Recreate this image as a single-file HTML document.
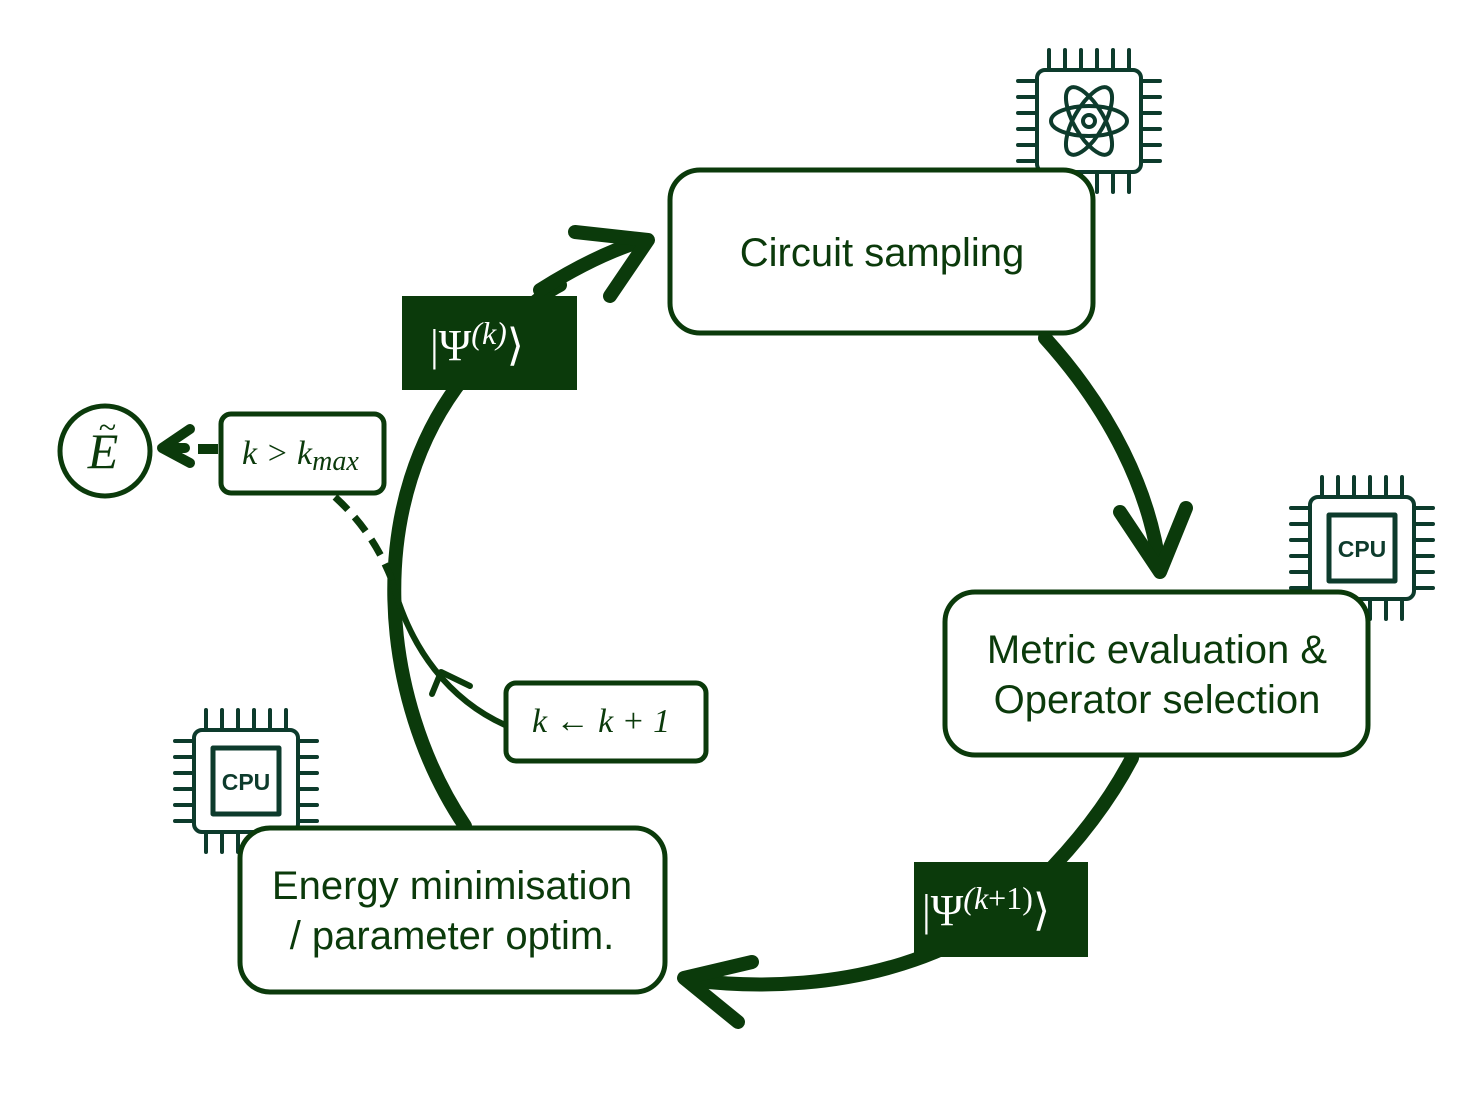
<!DOCTYPE html>
<html><head><meta charset="utf-8"><style>
body{margin:0;background:#fff;width:1472px;height:1116px;overflow:hidden}
svg{display:block}
.t{font-family:"Liberation Sans","DejaVu Sans",sans-serif;font-size:40px;fill:#0b3a0b}
.m{font-family:"Liberation Serif","DejaVu Serif",serif;font-style:italic;fill:#0b3a0b}
.w{font-family:"Liberation Serif","DejaVu Serif",serif;fill:#fff}
</style></head><body>
<svg width="1472" height="1116" viewBox="0 0 1472 1116">
<defs>
<g id="pins" stroke="#0d3b2c" stroke-width="4" fill="none">
 <path d="M-40,-50v-21M-24,-50v-21M-8,-50v-21M8,-50v-21M24,-50v-21M40,-50v-21"/>
 <path d="M-40,50v21M-24,50v21M-8,50v21M8,50v21M24,50v21M40,50v21"/>
 <path d="M-50,-40h-21M-50,-24h-21M-50,-8h-21M-50,8h-21M-50,24h-21M-50,40h-21"/>
 <path d="M50,-40h21M50,-24h21M50,-8h21M50,8h21M50,24h21M50,40h21"/>
 <rect x="-52" y="-51" width="104" height="102" rx="8" fill="#fff"/>
</g>
</defs>
<g fill="none" stroke="#0b3a0b" stroke-linecap="round" stroke-linejoin="round">
<g transform="translate(1089,121)"><use href="#pins"/>
 <g stroke="#0d3b2c" stroke-width="4"><ellipse rx="38" ry="15"/><ellipse rx="38" ry="15" transform="rotate(60)"/><ellipse rx="38" ry="15" transform="rotate(-60)"/><circle r="6"/></g></g>
<g transform="translate(1362,548)"><use href="#pins"/><rect x="-33" y="-33" width="66" height="66" stroke="#0d3b2c" stroke-width="5"/></g>
<g transform="translate(246,781)"><use href="#pins"/><rect x="-33" y="-33" width="66" height="66" stroke="#0d3b2c" stroke-width="5"/></g>
<path d="M465,826 C380,700 360,500 470,370 C500,330 540,295 560,285" stroke-width="14"/>
<path d="M540,290 C575,268 610,250 645,240" stroke-width="14"/>
<path d="M575,232 L648,240 L610,296" stroke-width="14"/>
<path d="M1045,338 C1110,410 1150,490 1160,570" stroke-width="14"/>
<path d="M1120,512 L1160,572 L1186,508" stroke-width="14"/>
<path d="M1132,758 C1110,800 1080,840 1040,880 C980,950 850,1000 690,980" stroke-width="14"/>
<path d="M752,962 L684,978 L738,1022" stroke-width="14"/>
<path d="M505,725 C450,700 410,650 392,580" stroke-width="6"/>
<path d="M432,694 L441,672 L470,686" stroke-width="6"/>
<path d="M335,497 C360,520 378,545 392,580" stroke-width="7" stroke-dasharray="18,10" stroke-linecap="butt"/>
<path d="M218,449 L198,449" stroke-width="10" stroke-linecap="butt"/>
<path d="M190,429 L162,448 L190,463" stroke-width="10"/>
<path d="M185,448 L165,448" stroke-width="10"/>
<circle cx="105" cy="451" r="45" stroke-width="5"/>
<rect x="670" y="170" width="423" height="163" rx="30" fill="#fff" stroke-width="5"/>
<rect x="945" y="592" width="423" height="163" rx="30" fill="#fff" stroke-width="5"/>
<rect x="240" y="828" width="425" height="164" rx="30" fill="#fff" stroke-width="5"/>
<rect x="221" y="414" width="163" height="79" rx="10" fill="#fff" stroke-width="5"/>
<rect x="506" y="683" width="200" height="78" rx="10" fill="#fff" stroke-width="5"/>
</g>
<rect x="402" y="296" width="175" height="94" fill="#0b3a0b"/>
<rect x="914" y="862" width="174" height="95" fill="#0b3a0b"/>
<text class="t" x="882" y="266" text-anchor="middle">Circuit sampling</text>
<text class="t" x="1157" y="663" text-anchor="middle">Metric evaluation &amp;</text>
<text class="t" x="1157" y="713" text-anchor="middle">Operator selection</text>
<text class="t" x="452" y="899" text-anchor="middle">Energy minimisation</text>
<text class="t" x="452" y="949" text-anchor="middle">/ parameter optim.</text>
<text class="w" x="430" y="360" font-size="44">|Ψ<tspan dy="-16" font-size="32" font-style="italic">(k)</tspan><tspan dy="16">⟩</tspan></text>
<text class="w" x="922" y="925" font-size="44">|Ψ<tspan dy="-16" font-size="32"><tspan font-style="italic">(k</tspan>+1)</tspan><tspan dy="16">⟩</tspan></text>
<text class="m" x="242" y="464" font-size="34">k &gt; k<tspan font-size="28" dy="6">max</tspan></text>
<text class="m" x="532" y="732" font-size="34">k ← k + 1</text>
<text class="m" x="103" y="468" font-size="50" text-anchor="middle">E</text>
<text class="m" x="107" y="438" font-size="32" text-anchor="middle">~</text>
<text x="1362" y="557" font-family="Liberation Sans,sans-serif" font-weight="bold" font-size="23" fill="#0d3b2c" text-anchor="middle">CPU</text>
<text x="246" y="790" font-family="Liberation Sans,sans-serif" font-weight="bold" font-size="23" fill="#0d3b2c" text-anchor="middle">CPU</text>
</svg>
</body></html>
